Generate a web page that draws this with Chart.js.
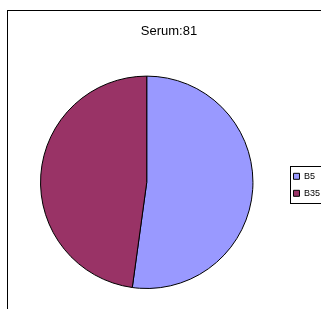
<!DOCTYPE html>
<html>
<head>
<meta charset="utf-8">
<script src="https://cdn.jsdelivr.net/npm/chart.js@4.4.1/dist/chart.umd.min.js"></script>
<style>
  html, body { margin: 0; padding: 0; background: #fff; overflow: hidden; }
  body { width: 321px; height: 309px; position: relative; }
  #frame { position: absolute; left: 7px; top: 10px; width: 400px; height: 400px; border: 1px solid #000; }
  #wrap { position: absolute; left: 8px; top: 11px; width: 322px; height: 320px; }
</style>
</head>
<body>
<div id="frame"></div>
<div id="wrap"><canvas id="chart"></canvas></div>
<script>
  const TITLE = 'Serum:81';
  const labels = ['B5', 'B35'];
  const values = [12, 11];
  const sliceColors = ['#9999FF', '#993366'];

  const FONT = '"Liberation Sans", Arial, sans-serif';

  // box around the legend items, like the old Excel legend
  const legendFrame = {
    id: 'legendFrame',
    afterDraw(chart) {
      const boxes = chart.legend && chart.legend.legendHitBoxes;
      if (!boxes || !boxes.length) return;
      const first = boxes[0], last = boxes[boxes.length - 1];
      const ctx = chart.ctx;
      const left = Math.round(first.left) - 2.5;
      const top = Math.round(first.top) - 5.5;
      const bottom = Math.round(last.top + last.height) + 5.5;
      ctx.save();
      ctx.strokeStyle = '#000';
      ctx.lineWidth = 1;
      ctx.strokeRect(left, top, 60, bottom - top);
      ctx.restore();
    }
  };

  new Chart(document.getElementById('chart'), {
    type: 'pie',
    data: {
      labels: labels,
      datasets: [{
        data: values,
        backgroundColor: sliceColors,
        borderColor: '#000',
        borderWidth: 1,
        hoverOffset: 0
      }]
    },
    options: {
      responsive: true,
      maintainAspectRatio: false,
      animation: false,
      events: [],
      layout: { padding: { top: 0, left: 0, right: 0, bottom: 42 } },
      plugins: {
        title: {
          display: true,
          text: TITLE,
          color: '#000',
          font: { family: FONT, size: 13, weight: 'normal' },
          padding: { top: 13, bottom: 36 }
        },
        legend: {
          position: 'right',
          fullSize: false,
          title: {
            display: true,
            text: '',
            font: { size: 1, lineHeight: 1 },
            padding: { top: 2, bottom: 2 }
          },
          labels: {
            color: '#000',
            boxWidth: 6,
            boxHeight: 6,
            padding: 8,
            font: { family: FONT, size: 9 }
          }
        },
        tooltip: { enabled: false }
      }
    },
    plugins: [legendFrame]
  });
</script>
</body>
</html>
